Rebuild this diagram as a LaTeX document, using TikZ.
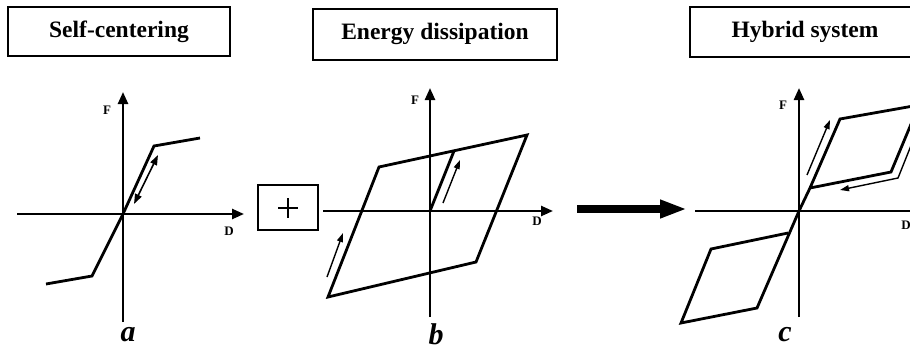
\documentclass[tikz,border=0pt]{standalone}
\usepackage{fontspec}
\setmainfont{Liberation Serif}
\usetikzlibrary{arrows.meta}
\begin{document}
\begin{tikzpicture}[x=1pt,y=-1pt,
  titletext/.style={font=\fontsize{23.5}{26}\selectfont\bfseries},
  axis/.style={line width=2.4pt,-{Triangle[length=12pt,width=10pt]}},
  curve/.style={line width=2.8pt,line join=miter},
  thinarrow/.style={line width=1.4pt,-{Triangle[length=9pt,width=6pt]}},
  axlabel/.style={font=\fontsize{13}{14}\selectfont\bfseries,inner sep=0pt},
  panellabel/.style={font=\fontsize{30}{32}\selectfont\bfseries\itshape,inner sep=0pt}]
\useasboundingbox (0,0) rectangle (910,351);
\clip (0,0) rectangle (910,351);
\fill[white] (0,0) rectangle (910,351);

% ---------- titles
\draw[line width=1.3pt] (8,7) rectangle (230,56);
\node[titletext] (ta) at (119,32) {Self-centering};
\draw[line width=1.3pt] (313,9) rectangle (557,60);
\node[titletext] (tb) at (435,34) {Energy dissipation};
\draw[line width=1.3pt] (690,7) rectangle (935,57);
\node[titletext] (tc) at (805,32) {Hybrid system};

% ---------- panel a
\coordinate (oa) at (123,214);
\draw[axis] (123,322) -- (123,92);
\draw[axis] (17,214) -- (244,214);
\node[axlabel] (Fa) at (107,110) {F};
\node[axlabel] (Da) at (229,231) {D};
\draw[curve] (46,284) -- (92,276) -- (oa) -- (154,146) -- (200,138);
\draw[line width=1.6pt,{Triangle[length=10pt,width=7pt]}-{Triangle[length=10pt,width=7pt]}] (134,204) -- (158,155);
\node[panellabel] (la) at (128,335) {a};

% ---------- plus box
\node[draw,line width=1.3pt,minimum width=60pt,minimum height=45pt,inner sep=0pt] (plus) at (288,207.5) {};
\draw[line width=2.6pt] (278,208) -- (298,208) (288,198) -- (288,218);

% ---------- panel b
\coordinate (ob) at (430,211);
\draw[axis] (430,317) -- (430,88);
\draw[axis] (323,211) -- (553,211);
\node[axlabel] (Fb) at (415,100) {F};
\node[axlabel] (Db) at (537,221) {D};
\draw[curve] (379,167) -- (527,135) -- (476,262) -- (328,297) -- cycle;
\draw[curve] (ob) -- (454,151);
\draw[thinarrow] (443,203) -- (460,160);
\draw[thinarrow] (327,277) -- (343,233);
\node[panellabel] (lb) at (436,334) {b};

% ---------- big arrow
\coordinate (arrs) at (577,209);
\coordinate (arre) at (687,209);
\draw[line width=8pt,-{Triangle[length=27pt,width=17pt]}] (arrs) -- (arre);

% ---------- panel c
\coordinate (oc) at (799,211);
\draw[axis] (799,317) -- (799,88);
\draw[axis] (695,211) -- (925,211);
\node[axlabel] (Fc) at (783,105) {F};
\node[axlabel] (Dc) at (906,225) {D};
\draw[curve] (oc) -- (810,188) -- (840,119) -- (919,105) -- (891,172) -- (810,188);
\draw[curve] (oc) -- (757,308) -- (681,323) -- (711,249) -- (788,233);
\draw[thinarrow] (807,175) -- (830,120);
\draw[thinarrow] (912,143) -- (898,178) -- (840,190);
\node[panellabel] (lc) at (785,335) {c};
\end{tikzpicture}
\end{document}
